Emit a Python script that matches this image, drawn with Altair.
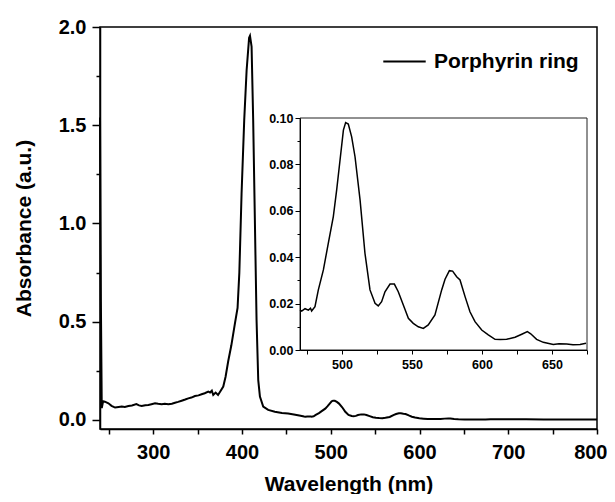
import altair as alt
import pandas as pd

# ---- data ----
wavelength = [
    240, 241, 242, 243.5, 245.5, 249.5, 253, 257, 261, 264.5, 268, 272, 276, 281, 284,
    287, 291, 294.5, 298, 302, 305.5, 309.5, 313, 317, 321, 324.5, 328, 332, 336,
    339.5, 343, 347, 351, 354.5, 358, 362, 364, 366, 367.6, 370.3, 373, 376, 378.9,
    381.5, 384.5, 388, 392, 395, 397, 399.5, 402.5, 405.2, 408, 409, 410.8, 412.6,
    414.5, 416.4, 418.3, 420.2, 423.9, 429.5, 437, 445, 452, 460, 466,
    470, 471.2, 473.6, 476, 477.5, 478.3, 480.7, 483.1, 486.7, 490.2, 493.8, 496.2,
    498.6, 501, 502.6, 504.5, 506.9, 509.3, 512.9, 516.4, 520, 523.6, 525.9, 528.3,
    530.7, 534.3, 537.4, 540.2, 543.8, 547.4, 550.9, 554.5, 558.1, 561.6, 566.4,
    571.2, 573.6, 576.7, 579, 581.9, 584.3, 587.9, 591.4, 595, 599.8, 604.5, 609.3,
    613, 617.6, 623.6, 628.4, 632.4, 634.8, 639, 643.8, 650.9, 655, 660.5, 665, 670,
    674.3, 680, 690, 700, 720, 740, 760, 780, 800,
]
absorbance = [
    1.54, 0.60, 0.06, 0.095, 0.093, 0.085, 0.072, 0.063, 0.066, 0.068, 0.066, 0.071,
    0.074, 0.081, 0.074, 0.071, 0.075, 0.076, 0.080, 0.085, 0.082, 0.080, 0.083, 0.080,
    0.083, 0.088, 0.092, 0.098, 0.104, 0.110, 0.114, 0.122, 0.125, 0.131, 0.136, 0.144,
    0.140, 0.149, 0.127, 0.139, 0.127, 0.149, 0.170, 0.220, 0.30, 0.38, 0.49, 0.57,
    0.75, 1.15, 1.526, 1.78, 1.945, 1.955, 1.90, 1.526, 1.017, 0.509, 0.203, 0.119,
    0.068, 0.051, 0.042, 0.036, 0.033, 0.027, 0.021,
    0.0172, 0.0168, 0.0178, 0.0172, 0.0180, 0.0168, 0.0187, 0.0259, 0.0345, 0.046,
    0.0575, 0.069, 0.0819, 0.0948, 0.098, 0.0974, 0.0919, 0.0833, 0.0647, 0.0417,
    0.0259, 0.0201, 0.019, 0.0208, 0.0251, 0.0284, 0.0284, 0.0251, 0.0194, 0.0137,
    0.0115, 0.0100, 0.0093, 0.0108, 0.0151, 0.0259, 0.0305, 0.0342, 0.034, 0.0316,
    0.0302, 0.023, 0.0165, 0.0122, 0.0086, 0.0065, 0.0046, 0.0045, 0.0046, 0.0055,
    0.0068, 0.0079, 0.0070, 0.0046, 0.0033, 0.0024, 0.0027, 0.0026, 0.0023, 0.0024,
    0.0029, 0.003, 0.0035, 0.003, 0.003, 0.0025, 0.0028, 0.0025, 0.0025,
]
series_name = "Porphyrin ring"

main_x_domain = [240, 800]
main_y_domain = [-0.046, 2.0]
main_x_ticks = [250, 300, 350, 400, 450, 500, 550, 600, 650, 700, 750, 800]
main_y_ticks = [0, 0.25, 0.5, 0.75, 1.0, 1.25, 1.5, 1.75, 2.0]

inset_x_domain = [470, 675]
inset_y_domain = [0, 0.10]
inset_x_ticks = [475, 500, 525, 550, 575, 600, 625, 650, 675]
inset_y_ticks = [0, 0.01, 0.02, 0.03, 0.04, 0.05, 0.06, 0.07, 0.08, 0.09, 0.10]

df = pd.DataFrame({"wavelength": wavelength, "absorbance": absorbance, "series": series_name})
frame_df = pd.DataFrame({"x0": [inset_x_domain[0]], "x1": [inset_x_domain[1]],
                         "y0": [inset_y_domain[0]], "y1": [inset_y_domain[1]]})

FONT = "Liberation Sans"
W, H = 497, 402

main_x_axis = alt.Axis(
    values=main_x_ticks,
    labelExpr="datum.value % 100 == 0 ? format(datum.value, 'd') : ''",
    title="Wavelength (nm)", titleFont=FONT, titleFontSize=21, titleFontWeight="bold",
    titleX=W / 2, titleY=61, titleAlign="center", titleBaseline="alphabetic", titleColor="black",
    labelFont=FONT, labelFontSize=20, labelFontWeight="bold", labelColor="black",
    labelPadding=8, labelOverlap=False, labelFlush=True, labelFlushOffset=10,
    tickSize=5, tickWidth=1.5, tickColor="black",
    domainColor="black", domainWidth=1.5, grid=False,
)
main_y_axis = alt.Axis(
    values=main_y_ticks,
    labelExpr="datum.value % 0.5 == 0 ? format(datum.value, '.1f') : ''",
    title="Absorbance (a.u.)", titleFont=FONT, titleFontSize=21, titleFontWeight="bold",
    titleX=-70, titleY=H / 2, titleAngle=270, titleAlign="center", titleBaseline="alphabetic",
    titleColor="black",
    labelFont=FONT, labelFontSize=20, labelFontWeight="bold", labelColor="black",
    labelPadding=6, labelOverlap=False, labelFlush=False,
    tickSize={"condition": {"test": "datum.value % 0.5 == 0", "value": 8}, "value": 4},
    tickWidth=1.5, tickColor="black",
    domainColor="black", domainWidth=1.5, grid=False,
)

inset_x_scale = alt.Scale(domain=inset_x_domain, range=[200, 487], nice=False, zero=False)
inset_y_scale = alt.Scale(domain=inset_y_domain, range=[323, 91], nice=False, zero=False)

inset_x_axis = alt.Axis(
    orient="bottom", offset=-79, values=inset_x_ticks,
    labelExpr="datum.value % 50 == 0 ? format(datum.value, 'd') : ''",
    title=None, labelFont=FONT, labelFontSize=12.5, labelFontWeight="bold", labelColor="black",
    labelPadding=4, labelOverlap=False, labelFlush=False,
    tickSize=4, tickWidth=1, tickColor="black", domainColor="black", domainWidth=1,
    grid=False, zindex=2,
)
inset_y_axis = alt.Axis(
    orient="left", offset=-200, values=inset_y_ticks,
    labelExpr="round(datum.value * 100) % 2 == 0 ? format(datum.value, '.2f') : ''",
    title=None, labelFont=FONT, labelFontSize=12.5, labelFontWeight="bold", labelColor="black",
    labelPadding=2, labelOverlap=False, labelFlush=False,
    tickSize={"condition": {"test": "round(datum.value * 100) % 2 == 0", "value": 5}, "value": 3},
    tickWidth=1, tickColor="black", domainColor="black", domainWidth=1,
    grid=False, zindex=2,
)

main_line = alt.Chart(df).mark_line(strokeWidth=2).encode(
    x=alt.X("wavelength:Q", scale=alt.Scale(domain=main_x_domain, nice=False, zero=False),
            axis=main_x_axis),
    y=alt.Y("absorbance:Q", scale=alt.Scale(domain=main_y_domain, nice=False, zero=False),
            axis=main_y_axis),
    color=alt.Color("series:N", scale=alt.Scale(range=["black"]),
                    legend=alt.Legend(orient="none", legendX=282, legendY=12, title=None,
                                      symbolType="stroke", symbolSize=1800, symbolStrokeWidth=2,
                                      labelFont=FONT, labelFontSize=21, labelFontWeight="bold",
                                      labelColor="black", labelOffset=7, padding=0)),
)

inset_frame = alt.Chart(frame_df).mark_rect(fill="white", stroke="#222", strokeWidth=1).encode(
    x=alt.X("x0:Q", scale=inset_x_scale, axis=inset_x_axis),
    x2="x1:Q",
    y=alt.Y("y0:Q", scale=inset_y_scale, axis=inset_y_axis),
    y2="y1:Q",
)
inset_line = alt.Chart(df).transform_filter(
    (alt.datum.wavelength >= inset_x_domain[0]) & (alt.datum.wavelength <= inset_x_domain[1])
).mark_line(strokeWidth=1.5, color="black").encode(
    x=alt.X("wavelength:Q", scale=inset_x_scale, axis=inset_x_axis),
    y=alt.Y("absorbance:Q", scale=inset_y_scale, axis=inset_y_axis),
)

inset = alt.layer(inset_frame, inset_line)

chart = alt.layer(main_line, inset).resolve_scale(x="independent", y="independent").properties(
    width=W, height=H,
    autosize=alt.AutoSizeParams(type="none"),
    padding={"left": 92, "top": 19, "right": 10, "bottom": 65},
).configure_view(stroke="black", strokeWidth=1.5)

chart.save("out.html", embed_options={"renderer": "svg", "actions": False})
